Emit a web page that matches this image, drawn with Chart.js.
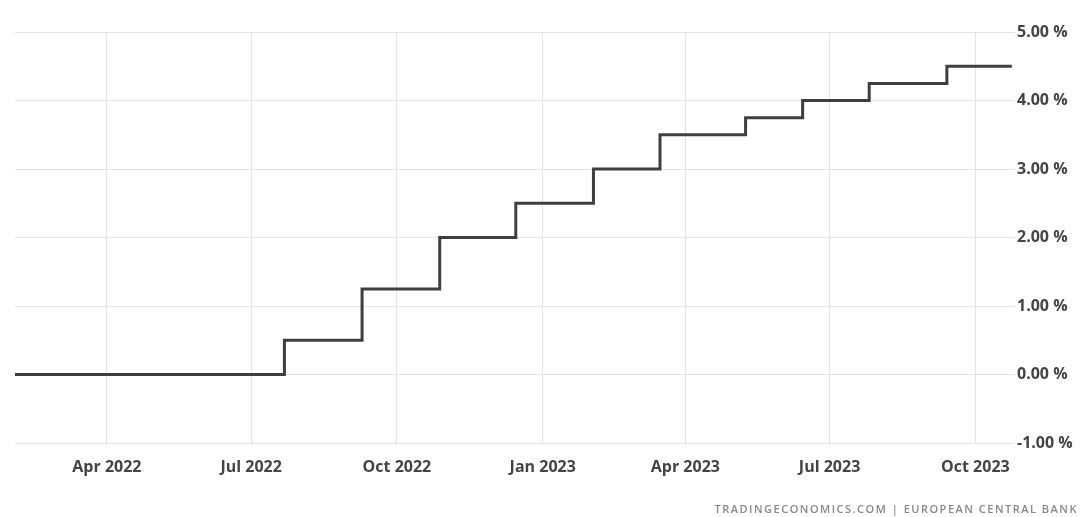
<!DOCTYPE html>
<html lang="en">
<head>
  <meta charset="UTF-8" />
  <title>ECB Interest Rate</title>
  <script src="https://cdn.jsdelivr.net/npm/chart.js"></script>
  <style>
    html, body { margin: 0; padding: 0; background: #fff; }
    #wrap { position: relative; width: 1080px; height: 517px; }
    #source {
      position: absolute; right: 2px; bottom: 1px;
      font: 600 11px "Open Sans", sans-serif; color: #888; letter-spacing: 1.5px;
    }
  </style>
</head>
<body>
  <div id="wrap">
    <canvas id="rateChart"></canvas>
    <div id="source">TRADINGECONOMICS.COM | EUROPEAN CENTRAL BANK</div>
  </div>

  <script>
    // rate changes (date the new level starts)
    const changeDates = ["2022-02-02", "2022-07-22", "2022-09-09", "2022-10-28", "2022-12-15",
      "2023-02-02", "2023-03-16", "2023-05-09", "2023-06-14", "2023-07-26", "2023-09-13", "2023-10-24"];
    const rates = [0, 0.5, 1.25, 2.0, 2.5, 3.0, 3.5, 3.75, 4.0, 4.25, 4.5, 4.5];

    const tickDates = ["2022-04-01", "2022-07-01", "2022-10-01", "2023-01-01", "2023-04-01", "2023-07-01", "2023-10-01"];
    const tickLabels = ["Apr 2022", "Jul 2022", "Oct 2022", "Jan 2023", "Apr 2023", "Jul 2023", "Oct 2023"];
    const yTicks = [-1, 0, 1, 2, 3, 4, 5];

    const day = s => Date.parse(s + "T00:00:00Z") / 86400000;

    const points = changeDates.map((d, i) => ({ x: day(d), y: rates[i] }));

    const ctx = document.getElementById("rateChart").getContext("2d");
    new Chart(ctx, {
      type: "line",
      data: {
        datasets: [{
          data: points,
          stepped: "before",
          borderColor: "#3f3f3f",
          borderWidth: 3,
          pointRadius: 0,
          fill: false
        }]
      },
      options: {
        responsive: true,
        maintainAspectRatio: false,
        animation: false,
        layout: { padding: { left: 15, top: 32, right: 0, bottom: 34 } },
        plugins: { legend: { display: false }, tooltip: { enabled: false } },
        scales: {
          x: {
            type: "linear",
            min: day("2022-02-02"),
            max: day("2023-10-26"),
            afterBuildTicks: s => { s.ticks = tickDates.map(d => ({ value: day(d) })); },
            afterFit: s => { s.height = 40; },
            ticks: {
              color: "#444",
              font: { family: "Open Sans", size: 16, weight: "bold" },
              padding: 15,
              maxRotation: 0,
              callback: v => tickLabels[tickDates.findIndex(d => day(d) === v)] ?? ""
            },
            grid: { color: "#e4e4e4", drawTicks: false },
            border: { display: false }
          },
          y: {
            position: "right",
            min: -1,
            max: 5,
            afterBuildTicks: s => { s.ticks = yTicks.map(v => ({ value: v })); },
            afterFit: s => { s.width = 65; },
            ticks: {
              color: "#444",
              font: { family: "Open Sans", size: 16, weight: "bold" },
              padding: 2,
              callback: v => v.toFixed(2) + " %"
            },
            grid: { color: "#e4e4e4", drawTicks: false },
            border: { display: false }
          }
        }
      }
    });
  </script>
</body>
</html>
